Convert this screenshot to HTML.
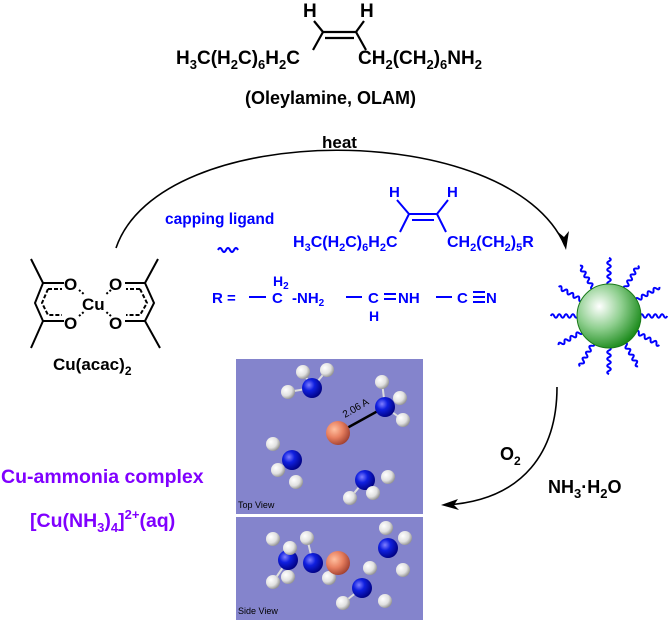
<!DOCTYPE html>
<html><head><meta charset="utf-8"><style>
html,body{margin:0;padding:0;background:#fff}
svg{display:block}
text{font-family:"Liberation Sans",Arial,sans-serif;font-weight:bold}
</style></head><body>
<svg width="671" height="620" viewBox="0 0 671 620" xmlns="http://www.w3.org/2000/svg">
<defs>
<radialGradient id="gs" cx="0.35" cy="0.35" r="0.7"><stop offset="0" stop-color="#fff"/><stop offset="0.5" stop-color="#8fcf8f"/><stop offset="1" stop-color="#1a8a1a"/></radialGradient>
<radialGradient id="gn" cx="0.35" cy="0.35" r="0.7"><stop offset="0" stop-color="#8080ff"/><stop offset="0.4" stop-color="#1020e0"/><stop offset="1" stop-color="#000080"/></radialGradient>
<radialGradient id="gh" cx="0.35" cy="0.35" r="0.7"><stop offset="0" stop-color="#fff"/><stop offset="0.6" stop-color="#e0e0e0"/><stop offset="1" stop-color="#909090"/></radialGradient>
<radialGradient id="gc" cx="0.35" cy="0.35" r="0.7"><stop offset="0" stop-color="#ffc0a0"/><stop offset="0.5" stop-color="#e88060"/><stop offset="1" stop-color="#a04030"/></radialGradient>
<path id="wv" d="M0,0 q2,-4 4,0 t4,0 t4,0 t4,0 t4,0" fill="none" stroke="#0000ff" stroke-width="2"/>
<path id="wl" d="M0,0 q1.7,-3.5 3.4,0 t3.4,0 t3.4,0 t3.4,0 t3.4,0 t3.4,0 t3.4,0 t3.4,0" fill="none" stroke="#0000ff" stroke-width="2"/>
</defs>

<!-- OLAM -->
<g fill="#000" font-size="19">
<text x="176" y="64">H<tspan font-size="13" dy="5">3</tspan><tspan dy="-5">C(H</tspan><tspan font-size="13" dy="5">2</tspan><tspan dy="-5">C)</tspan><tspan font-size="13" dy="5">6</tspan><tspan dy="-5">H</tspan><tspan font-size="13" dy="5">2</tspan><tspan dy="-5">C</tspan></text>
<text x="358" y="64">CH<tspan font-size="13" dy="5">2</tspan><tspan dy="-5">(CH</tspan><tspan font-size="13" dy="5">2</tspan><tspan dy="-5">)</tspan><tspan font-size="13" dy="5">6</tspan><tspan dy="-5">NH</tspan><tspan font-size="13" dy="5">2</tspan></text>
<text x="303" y="17">H</text><text x="360" y="17">H</text>
<text x="245" y="104" font-size="18">(Oleylamine, OLAM)</text>
<text x="322" y="148" font-size="17">heat</text>
</g>
<g stroke="#000" stroke-width="2.2" fill="none">
<path d="M314,21 L323,32 L356,32 L364,21"/><line x1="325" y1="38" x2="354" y2="38"/>
<path d="M313,50 L323,32 M356,32 L366,50"/>
</g>

<!-- top arc -->
<path d="M116,248 C160,118 510,118 565,246" fill="none" stroke="#000" stroke-width="1.6"/>
<path d="M566,250 L558,232 L564,237 L569,231 Z" fill="#000"/>

<!-- capping ligand -->
<g fill="#0000ff" font-size="15.5">
<text x="165" y="224">capping ligand</text>
<text x="293" y="247" font-size="16">H<tspan font-size="11" dy="4">3</tspan><tspan dy="-4">C(H</tspan><tspan font-size="11" dy="4">2</tspan><tspan dy="-4">C)</tspan><tspan font-size="11" dy="4">6</tspan><tspan dy="-4">H</tspan><tspan font-size="11" dy="4">2</tspan><tspan dy="-4">C</tspan></text>
<text x="447" y="247" font-size="16">CH<tspan font-size="11" dy="4">2</tspan><tspan dy="-4">(CH</tspan><tspan font-size="11" dy="4">2</tspan><tspan dy="-4">)</tspan><tspan font-size="11" dy="4">5</tspan><tspan dy="-4">R</tspan></text>
<text x="389" y="197" font-size="15">H</text><text x="447" y="197" font-size="15">H</text>
<text x="212" y="303" font-size="15">R =</text>
<text x="272" y="303" font-size="15">C</text><text x="273" y="286" font-size="14">H<tspan font-size="10" dy="3">2</tspan></text>
<text x="292" y="303" font-size="15">-NH<tspan font-size="10" dy="3">2</tspan></text>
<text x="368" y="303" font-size="15">C</text><text x="369" y="321" font-size="14">H</text>
<text x="398" y="303" font-size="15">NH</text>
<text x="457" y="303" font-size="15">C</text><text x="486" y="303" font-size="15">N</text>
</g>
<g stroke="#0000ff" stroke-width="2" fill="none">
<path d="M397,200 L409,214 L437,214 L448,200 M400,232 L409,214 M437,214 L446,232"/>
<line x1="412" y1="220" x2="434" y2="220"/>
<line x1="249" y1="297" x2="266" y2="297"/><line x1="346" y1="297" x2="362" y2="297"/>
<line x1="384" y1="294" x2="396" y2="294"/><line x1="384" y1="299" x2="396" y2="299"/>
<line x1="436" y1="297" x2="452" y2="297"/>
<line x1="473" y1="292" x2="485" y2="292"/><line x1="473" y1="297" x2="485" y2="297"/><line x1="473" y1="302" x2="485" y2="302"/>
</g>
<use href="#wv" x="218" y="250"/>

<!-- Cu(acac)2 -->
<g stroke="#000" stroke-width="2" fill="none">
<path d="M31,259 L43,283 L64,283 M43,283 L35,303 L43,321 M43,321 L64,321 M43,321 L31,348"/>
<path d="M48,289 L62,289 M48,289 L42,303 L48,315 L62,315" stroke-dasharray="4,2"/>
<path d="M158,259 L145,283 L125,283 M145,283 L154,303 L145,321 M145,321 L125,321 M145,321 L160,348"/>
<path d="M140,289 L126,289 M140,289 L147,303 L140,315 L126,315" stroke-dasharray="4,2"/>
<path d="M79,290 L85,295 M79,316 L85,311 M111,290 L105,295 M111,316 L105,311" stroke-dasharray="2,2"/>
</g>
<g fill="#000" font-size="17">
<text x="64" y="290">O</text><text x="64" y="329">O</text>
<text x="109" y="290">O</text><text x="109" y="329">O</text>
<text x="82" y="310">Cu</text>
<text x="53" y="370">Cu(acac)<tspan font-size="12" dy="5">2</tspan></text>
</g>

<!-- nanoparticle -->
<g transform="translate(609,316)">
<use href="#wl" transform="rotate(-90) translate(31,0)"/>
<use href="#wl" transform="rotate(-60) translate(31,0)"/>
<use href="#wl" transform="rotate(-30) translate(31,0)"/>
<use href="#wl" transform="rotate(0) translate(31,0)"/>
<use href="#wl" transform="rotate(30) translate(31,0)"/>
<use href="#wl" transform="rotate(60) translate(31,0)"/>
<use href="#wl" transform="rotate(90) translate(31,0)"/>
<use href="#wl" transform="rotate(120) translate(31,0)"/>
<use href="#wl" transform="rotate(150) translate(31,0)"/>
<use href="#wl" transform="rotate(180) translate(31,0)"/>
<use href="#wl" transform="rotate(210) translate(31,0)"/>
<use href="#wl" transform="rotate(240) translate(31,0)"/>
<circle cx="0" cy="0" r="32" fill="url(#gs)" stroke="#1a7a1a" stroke-width="1"/>
</g>

<!-- lower arc -->
<path d="M557,387 C557,450 525,500 446,505" fill="none" stroke="#000" stroke-width="1.6"/>
<path d="M441,505 L458,499 L454,505 L459,510 Z" fill="#000"/>
<g fill="#000" font-size="18">
<text x="500" y="460">O<tspan font-size="12" dy="5">2</tspan></text>
<text x="548" y="493">NH<tspan font-size="13" dy="5">3</tspan><tspan dy="-5">·H</tspan><tspan font-size="13" dy="5">2</tspan><tspan dy="-5">O</tspan></text>
</g>

<!-- Cu-ammonia -->
<g fill="#8000ff" font-size="19.5">
<text x="1" y="483">Cu-ammonia complex</text>
<text x="30" y="527">[Cu(NH<tspan font-size="13" dy="5">3</tspan><tspan dy="-5">)</tspan><tspan font-size="13" dy="5">4</tspan><tspan dy="-5">]</tspan><tspan font-size="13" dy="-8">2+</tspan><tspan dy="8">(aq)</tspan></text>
</g>

<!-- panel -->
<rect x="236" y="359" width="187" height="155" fill="#8484cc"/>
<rect x="236" y="517" width="187" height="103" fill="#8484cc"/>
<g stroke="#ddd" stroke-width="2">
<line x1="312" y1="388" x2="303" y2="372"/><line x1="312" y1="388" x2="327" y2="370"/><line x1="312" y1="388" x2="288" y2="392"/>
<line x1="385" y1="407" x2="382" y2="382"/><line x1="385" y1="407" x2="403" y2="420"/>
<line x1="292" y1="460" x2="278" y2="470"/><line x1="365" y1="480" x2="350" y2="498"/>
<line x1="288" y1="560" x2="273" y2="582"/><line x1="313" y1="563" x2="307" y2="538"/><line x1="362" y1="588" x2="343" y2="603"/>
</g>
<line x1="338" y1="433" x2="385" y2="407" stroke="#000" stroke-width="2.5"/>
<text x="345" y="418" font-size="10" fill="#000" transform="rotate(-30 345 418)" style="font-weight:normal">2.06 A</text>
<g>
<circle cx="303" cy="372" r="7" fill="url(#gh)"/><circle cx="327" cy="370" r="7" fill="url(#gh)"/><circle cx="288" cy="392" r="7" fill="url(#gh)"/>
<circle cx="312" cy="388" r="10" fill="url(#gn)"/>
<circle cx="382" cy="382" r="7" fill="url(#gh)"/><circle cx="400" cy="398" r="7" fill="url(#gh)"/><circle cx="403" cy="420" r="7" fill="url(#gh)"/>
<circle cx="385" cy="407" r="10" fill="url(#gn)"/>
<circle cx="338" cy="433" r="12" fill="url(#gc)"/>
<circle cx="273" cy="444" r="7" fill="url(#gh)"/><circle cx="278" cy="470" r="7" fill="url(#gh)"/>
<circle cx="292" cy="460" r="10" fill="url(#gn)"/><circle cx="296" cy="482" r="7" fill="url(#gh)"/>
<circle cx="388" cy="477" r="7" fill="url(#gh)"/>
<circle cx="365" cy="480" r="10" fill="url(#gn)"/>
<circle cx="350" cy="498" r="7" fill="url(#gh)"/><circle cx="373" cy="493" r="7" fill="url(#gh)"/>
<circle cx="273" cy="539" r="7" fill="url(#gh)"/><circle cx="307" cy="538" r="7" fill="url(#gh)"/>
<circle cx="288" cy="560" r="10" fill="url(#gn)"/>
<circle cx="290" cy="548" r="7" fill="url(#gh)"/>
<circle cx="273" cy="582" r="7" fill="url(#gh)"/><circle cx="288" cy="577" r="7" fill="url(#gh)"/>
<circle cx="329" cy="578" r="7" fill="url(#gh)"/>
<circle cx="313" cy="563" r="10" fill="url(#gn)"/>
<circle cx="338" cy="563" r="12" fill="url(#gc)"/>
<circle cx="386" cy="528" r="7" fill="url(#gh)"/><circle cx="405" cy="538" r="7" fill="url(#gh)"/><circle cx="403" cy="570" r="7" fill="url(#gh)"/>
<circle cx="388" cy="548" r="10" fill="url(#gn)"/>
<circle cx="370" cy="568" r="7" fill="url(#gh)"/>
<circle cx="362" cy="588" r="10" fill="url(#gn)"/>
<circle cx="343" cy="603" r="7" fill="url(#gh)"/><circle cx="385" cy="601" r="7" fill="url(#gh)"/>
</g>
<text x="238" y="508" font-size="9" fill="#000" style="font-weight:normal">Top View</text>
<text x="238" y="614" font-size="9" fill="#000" style="font-weight:normal">Side View</text>
</svg>
</body></html>
